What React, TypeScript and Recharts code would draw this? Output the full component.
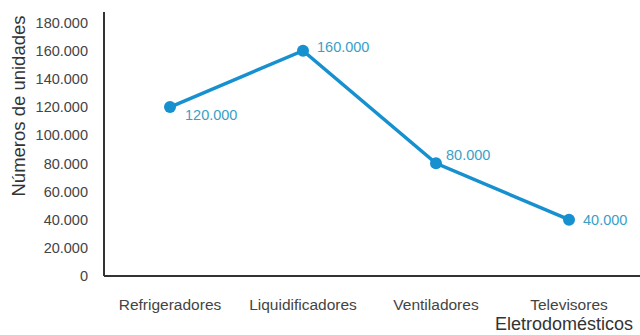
import { LineChart, Line, XAxis, YAxis, LabelList } from "recharts";

const categories = ["Refrigeradores", "Liquidificadores", "Ventiladores", "Televisores"];
const units = [120000, 160000, 80000, 40000];
const yTicks = [0, 20000, 40000, 60000, 80000, 100000, 120000, 140000, 160000, 180000];

// where each value label sits relative to its dot
const labelOffsets = [
  { dx: 15, dy: 8 },
  { dx: 14, dy: -4 },
  { dx: 10, dy: -8 },
  { dx: 14, dy: 0 },
];

const data = categories.map((name, i) => ({ name, units: units[i] }));

const fmt = (v: number) => (v === 0 ? "0" : v.toLocaleString("de-DE"));

const FONT = "'Liberation Sans', Arial, sans-serif";

function ValueLabel(props: any) {
  const { x, y, value, index } = props;
  const off = labelOffsets[index] ?? { dx: 12, dy: 0 };
  return (
    <text
      x={x + off.dx}
      y={y + off.dy}
      fill="#3a9fc6"
      fontSize={14.5}
      fontFamily={FONT}
      dominantBaseline="central"
    >
      {fmt(value)}
    </text>
  );
}

export default function App() {
  return (
    <div style={{ position: "absolute", left: 0, top: 0, width: 640, height: 335, background: "#fff" }}>
      <LineChart width={640} height={335} data={data} margin={{ top: 12, right: 0, bottom: 29, left: 0 }}>
        <XAxis
          dataKey="name"
          height={30}
          padding={{ left: 66, right: 71 }}
          axisLine={{ stroke: "#333", strokeWidth: 2 }}
          tickLine={false}
          tickSize={0}
          tickMargin={23}
          tick={{ fill: "#444", fontSize: 15.5, fontFamily: FONT }}
          interval={0}
        />
        <YAxis
          width={104}
          domain={[0, 187500]}
          ticks={yTicks}
          interval={0}
          tickFormatter={fmt}
          axisLine={{ stroke: "#333", strokeWidth: 2 }}
          tickLine={false}
          tickSize={0}
          tickMargin={16}
          tick={{ fill: "#444", fontSize: 14.5, fontFamily: FONT }}
        />
        <Line
          dataKey="units"
          stroke="#1690cf"
          strokeWidth={3.5}
          dot={{ r: 6, fill: "#1690cf", stroke: "#1690cf", strokeWidth: 0 }}
          isAnimationActive={false}
        >
          <LabelList dataKey="units" content={<ValueLabel />} />
        </Line>
        <text
          x={18}
          y={106}
          transform="rotate(-90 18 106)"
          textAnchor="middle"
          dominantBaseline="central"
          fontSize={18.5}
          fontFamily={FONT}
          fill="#333"
        >
          Números de unidades
        </text>
        <text x={633} y={324} textAnchor="end" dominantBaseline="central" fontSize={18} fontFamily={FONT} fill="#333">
          Eletrodomésticos
        </text>
      </LineChart>
    </div>
  );
}
